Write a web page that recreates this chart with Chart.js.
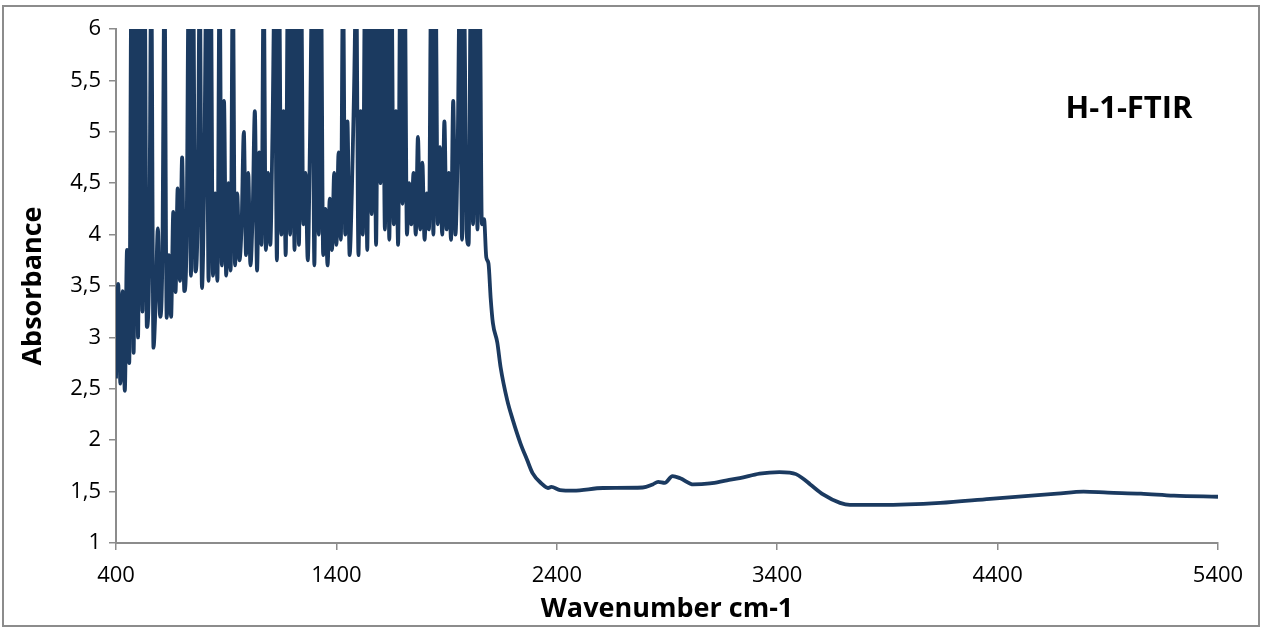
<!DOCTYPE html>
<html>
<head>
<meta charset="utf-8">
<title>H-1-FTIR</title>
<script src="https://cdn.jsdelivr.net/npm/chart.js@4.4.1/dist/chart.umd.min.js"></script>
<style>
  html, body { margin: 0; padding: 0; background: #ffffff; }
  #wrap { width: 1261px; height: 628px; }
</style>
</head>
<body>
<div id="wrap"><canvas id="ftir" width="1261" height="628"></canvas></div>
<script>
// Spectrum H-1: wavenumber (cm-1) and absorbance readings
const wavenumber = [
  400, 410, 420, 430, 440, 450, 460, 470, 480, 490,
  500, 510, 520, 530, 540, 550, 560, 570, 580, 590,
  600, 610, 620, 630, 640, 650, 660, 670, 680, 690,
  700, 710, 720, 730, 740, 750, 760, 770, 780, 790,
  800, 810, 820, 830, 840, 850, 860, 870, 880, 890,
  900, 910, 920, 930, 940, 950, 960, 970, 980, 990,
  1000, 1010, 1020, 1030, 1040, 1050, 1060, 1070, 1080, 1090,
  1100, 1110, 1120, 1130, 1140, 1150, 1160, 1170, 1180, 1190,
  1200, 1210, 1220, 1230, 1240, 1250, 1260, 1270, 1280, 1290,
  1300, 1310, 1320, 1330, 1340, 1350, 1360, 1370, 1380, 1390,
  1400, 1410, 1420, 1430, 1440, 1450, 1460, 1470, 1480, 1490,
  1500, 1510, 1520, 1530, 1540, 1550, 1560, 1570, 1580, 1590,
  1600, 1610, 1620, 1630, 1640, 1650, 1660, 1670, 1680, 1690,
  1700, 1710, 1720, 1730, 1740, 1750, 1760, 1770, 1780, 1790,
  1800, 1810, 1820, 1830, 1840, 1850, 1860, 1870, 1880, 1890,
  1900, 1910, 1920, 1930, 1940, 1950, 1960, 1970, 1980, 1990,
  2000, 2010, 2020, 2030, 2040, 2050, 2060, 2070,
  2080, 2090, 2100, 2110, 2130, 2145, 2175, 2200, 2235, 2265,
  2290, 2330, 2360, 2375, 2415, 2475, 2610, 2790, 2835, 2860,
  2890, 2925, 2960, 3020, 3095, 3172, 3230, 3320, 3410, 3455,
  3485, 3515, 3550, 3610, 3685, 3730, 3866, 4140, 4366, 4670,
  4790, 4900, 5050, 5200, 5400
];

const absorbance = [
  2.60, 3.52, 2.55, 3.45, 2.48, 3.85, 2.75, 6.5, 2.85, 6.5,
  3.00, 6.5, 3.25, 6.5, 3.10, 3.60, 6.5, 2.90, 3.35, 4.06,
  3.20, 3.70, 6.5, 3.19, 3.80, 3.20, 4.22, 3.44, 4.45, 3.55,
  4.75, 3.45, 3.90, 6.5, 3.60, 6.5, 3.64, 4.10, 6.5, 3.48,
  4.48, 6.5, 3.55, 6.5, 3.60, 4.40, 3.55, 6.5, 3.70, 5.30,
  3.60, 4.50, 3.65, 6.5, 3.70, 4.40, 3.75, 4.10, 5.00, 3.80,
  4.60, 3.70, 4.20, 5.20, 3.65, 4.80, 3.90, 6.5, 3.85, 4.60,
  3.90, 5.00, 6.5, 3.75, 6.5, 4.00, 5.20, 3.80, 6.5, 4.00,
  6.5, 3.85, 6.5, 3.90, 6.5, 4.10, 4.60, 3.75, 4.90, 6.5,
  3.70, 6.5, 4.00, 6.5, 3.80, 4.25, 3.70, 4.35, 3.85, 4.60,
  3.90, 4.80, 3.95, 6.5, 4.00, 5.10, 3.80, 4.40, 5.40, 6.5,
  3.80, 5.20, 4.00, 6.5, 3.85, 6.5, 4.20, 6.5, 3.90, 6.5,
  4.50, 6.5, 4.05, 6.5, 3.95, 6.5, 4.10, 5.20, 3.90, 6.5,
  4.30, 6.5, 4.00, 4.50, 4.10, 4.60, 4.00, 4.95, 4.05, 4.70,
  3.95, 4.40, 4.05, 6.5, 4.00, 6.5, 4.10, 4.85, 4.00, 5.10,
  4.05, 4.60, 3.95, 5.30, 4.00, 4.80, 6.5, 3.95, 6.5, 4.05,
  3.90, 6.5, 4.10, 6.5, 4.05, 6.5, 4.10, 4.15,
  3.78, 3.72, 3.38, 3.14, 2.95, 2.71, 2.39, 2.20, 1.97, 1.81,
  1.68, 1.58, 1.535, 1.545, 1.515, 1.51, 1.535, 1.54, 1.57, 1.595,
  1.585, 1.65, 1.63, 1.57, 1.58, 1.61, 1.63, 1.675, 1.69, 1.685,
  1.67, 1.63, 1.57, 1.47, 1.39, 1.37, 1.37, 1.39, 1.43, 1.48,
  1.50, 1.49, 1.48, 1.46, 1.45
];

const xTickValues = [400, 1400, 2400, 3400, 4400, 5400];
const yTickValues = [1, 1.5, 2, 2.5, 3, 3.5, 4, 4.5, 5, 5.5, 6];
const sampleLabel = 'H-1-FTIR';

const points = wavenumber.map((w, i) => ({ x: w, y: absorbance[i] }));

const lineColor = '#1b3a60';
const axisColor = '#8c8c8c';
const textColor = '#000000';
const uiFont = "'Open Sans', 'Liberation Sans', sans-serif";

// white page with a thin grey frame around the whole figure
const framePlugin = {
  id: 'frame',
  beforeDraw(chart) {
    const ctx = chart.ctx;
    ctx.save();
    ctx.fillStyle = '#ffffff';
    ctx.fillRect(0, 0, chart.width, chart.height);
    ctx.strokeStyle = axisColor;
    ctx.lineWidth = 2;
    ctx.strokeRect(3, 6, 1256, 620);
    ctx.restore();
  }
};

// sample name inside the plot, upper right
const sampleNamePlugin = {
  id: 'sampleName',
  afterDraw(chart) {
    const ctx = chart.ctx;
    const area = chart.chartArea;
    ctx.save();
    ctx.fillStyle = textColor;
    ctx.font = "bold 31px " + uiFont;
    ctx.textAlign = 'center';
    ctx.textBaseline = 'middle';
    ctx.fillText(sampleLabel, area.right - 89, area.top + 80);
    ctx.restore();
  }
};

new Chart(document.getElementById('ftir'), {
  type: 'line',
  data: {
    datasets: [{
      label: sampleLabel,
      data: points,
      borderColor: lineColor,
      backgroundColor: lineColor,
      borderWidth: 3.8,
      pointRadius: 0,
      pointHoverRadius: 0,
      cubicInterpolationMode: 'monotone',
      clip: 0,
      fill: false
    }]
  },
  options: {
    responsive: false,
    animation: false,
    devicePixelRatio: 1,
    layout: { padding: { left: 0, right: 43, top: 29, bottom: 0 } },
    plugins: {
      legend: { display: false },
      tooltip: { enabled: false },
      title: { display: false }
    },
    scales: {
      x: {
        type: 'linear',
        min: 400,
        max: 5400,
        afterBuildTicks(scale) { scale.ticks = xTickValues.map(v => ({ value: v })); },
        afterFit(scale) { scale.height = 85; },
        grid: { display: true, drawOnChartArea: false, drawTicks: true, tickLength: 7, color: axisColor, lineWidth: 1.5 },
        border: { display: true, color: axisColor, width: 2 },
        ticks: {
          color: textColor,
          padding: 13,
          maxRotation: 0,
          font: { family: uiFont, size: 22 },
          callback: v => String(v)
        },
        title: {
          display: true,
          text: 'Wavenumber cm-1',
          color: textColor,
          font: { family: uiFont, size: 27, weight: 'bold' },
          padding: { top: 0, bottom: 2 }
        }
      },
      y: {
        type: 'linear',
        min: 1,
        max: 6,
        afterBuildTicks(scale) { scale.ticks = yTickValues.map(v => ({ value: v })); },
        afterFit(scale) { scale.width = 116; },
        grid: { display: true, drawOnChartArea: false, drawTicks: true, tickLength: 7, color: axisColor, lineWidth: 1.5 },
        border: { display: true, color: axisColor, width: 2 },
        ticks: {
          color: textColor,
          padding: 8,
          font: { family: uiFont, size: 22 },
          callback: v => String(v).replace('.', ',')
        },
        title: {
          display: true,
          text: 'Absorbance',
          color: textColor,
          font: { family: uiFont, size: 27, weight: 'bold' },
          padding: { top: 17, bottom: 0 }
        }
      }
    }
  },
  plugins: [framePlugin, sampleNamePlugin]
});
</script>
</body>
</html>
